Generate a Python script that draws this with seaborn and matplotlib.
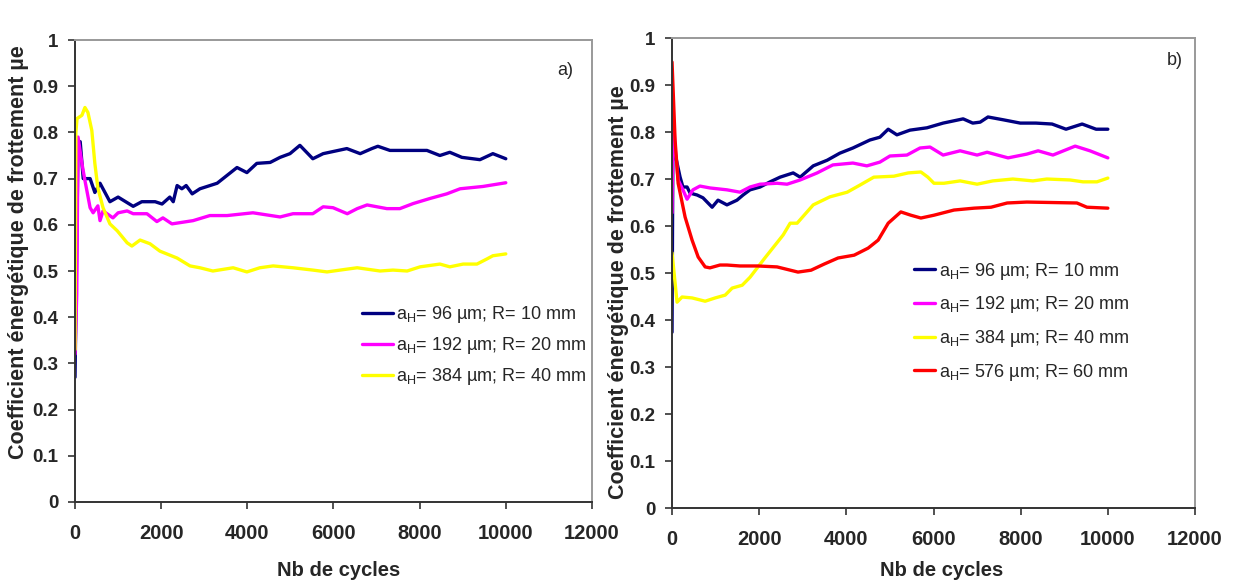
import matplotlib
matplotlib.use('Agg')
import matplotlib.pyplot as plt
from matplotlib.ticker import FuncFormatter
import seaborn as sns

# ---- panel a) ----
cyc_a1 = [0, 70, 120, 190, 350, 460, 580, 810, 1000, 1350, 1550, 1860, 2020, 2200, 2280, 2370, 2480,
          2580, 2720, 2900, 3300, 3760, 3990, 4220, 4530, 4760, 4990, 5220, 5520, 5760, 6310, 6620,
          6890, 7030, 7310, 8170, 8470, 8700, 8980, 9400, 9700, 10000]
mu_a1 = [0.27, 0.78, 0.78, 0.70, 0.70, 0.67, 0.69, 0.65, 0.66, 0.64, 0.65, 0.65, 0.645, 0.66, 0.65,
         0.685, 0.678, 0.685, 0.667, 0.678, 0.69, 0.724, 0.713, 0.733, 0.735, 0.746, 0.754, 0.772,
         0.743, 0.754, 0.765, 0.754, 0.765, 0.77, 0.761, 0.761, 0.75, 0.757, 0.746, 0.741, 0.754, 0.743]

cyc_a2 = [0, 40, 70, 160, 230, 350, 420, 530, 580, 650, 880, 1000, 1210, 1350, 1670, 1900, 2040, 2250,
          2740, 3130, 3530, 4130, 4760, 5060, 5520, 5760, 5990, 6320, 6550, 6780, 7240, 7540, 7850,
          8240, 8630, 8940, 9470, 10000]
mu_a2 = [0.32, 0.45, 0.79, 0.733, 0.696, 0.637, 0.626, 0.641, 0.609, 0.63, 0.615, 0.626, 0.63, 0.624,
         0.624, 0.607, 0.615, 0.602, 0.609, 0.62, 0.62, 0.626, 0.617, 0.624, 0.624, 0.639, 0.637, 0.624,
         0.635, 0.643, 0.635, 0.635, 0.646, 0.657, 0.667, 0.678, 0.683, 0.691]

cyc_a3 = [0, 20, 46, 160, 230, 300, 390, 460, 530, 650, 810, 980, 1210, 1320, 1510, 1740, 1970, 2370,
          2670, 2900, 3200, 3670, 3990, 4290, 4600, 5060, 5520, 5850, 6310, 6550, 7080, 7380, 7710,
          8010, 8470, 8700, 9010, 9330, 9560, 9700, 10000]
mu_a3 = [0.33, 0.80, 0.83, 0.837, 0.854, 0.843, 0.804, 0.733, 0.68, 0.637, 0.602, 0.587, 0.561, 0.554,
         0.567, 0.559, 0.543, 0.528, 0.511, 0.507, 0.50, 0.507, 0.498, 0.507, 0.511, 0.507, 0.502,
         0.498, 0.504, 0.507, 0.50, 0.502, 0.50, 0.509, 0.515, 0.509, 0.515, 0.515, 0.526, 0.533, 0.537]

# ---- panel b) ----
cyc_b1 = [0, 20, 115, 185, 250, 345, 415, 575, 710, 920, 1055, 1260, 1490, 1630, 1790, 2020, 2250,
          2480, 2780, 2940, 3240, 3560, 3850, 4150, 4540, 4770, 4960, 5160, 5460, 5850, 6220, 6680,
          6900, 7070, 7250, 7600, 7990, 8350, 8720, 9040, 9410, 9730, 10000]
mu_b1 = [0.374, 0.777, 0.734, 0.704, 0.683, 0.683, 0.67, 0.666, 0.66, 0.64, 0.655, 0.645, 0.655, 0.666,
         0.677, 0.683, 0.694, 0.704, 0.713, 0.704, 0.728, 0.74, 0.755, 0.766, 0.783, 0.789, 0.806,
         0.794, 0.804, 0.809, 0.819, 0.828, 0.819, 0.821, 0.832, 0.826, 0.819, 0.819, 0.817, 0.806,
         0.817, 0.806, 0.806]

cyc_b2 = [0, 20, 70, 140, 250, 345, 480, 640, 870, 1260, 1560, 1790, 2020, 2410, 2640, 2940, 3330, 3690,
          4150, 4470, 4770, 5000, 5390, 5690, 5920, 6220, 6610, 7000, 7230, 7710, 8140, 8400, 8740,
          9250, 9590, 10000]
mu_b2 = [0.628, 0.843, 0.768, 0.698, 0.677, 0.657, 0.677, 0.685, 0.681, 0.677, 0.672, 0.683, 0.689,
         0.691, 0.689, 0.698, 0.713, 0.73, 0.734, 0.728, 0.736, 0.749, 0.751, 0.766, 0.768, 0.751,
         0.76, 0.751, 0.757, 0.745, 0.753, 0.76, 0.751, 0.77, 0.76, 0.745]

cyc_b3 = [0, 115, 230, 460, 760, 990, 1220, 1380, 1610, 1790, 2130, 2550, 2710, 2870, 3240, 3620,
          4020, 4310, 4630, 5090, 5420, 5710, 5870, 6010, 6240, 6610, 7000, 7360, 7820, 8280, 8600,
          9130, 9430, 9750, 10000]
mu_b3 = [0.543, 0.438, 0.449, 0.447, 0.44, 0.447, 0.453, 0.468, 0.474, 0.491, 0.532, 0.581, 0.606,
         0.606, 0.645, 0.662, 0.672, 0.687, 0.704, 0.706, 0.713, 0.715, 0.704, 0.691, 0.691, 0.696,
         0.689, 0.696, 0.70, 0.696, 0.70, 0.698, 0.694, 0.694, 0.702]

cyc_b4 = [0, 70, 140, 300, 460, 600, 760, 870, 1100, 1260, 1560, 1970, 2410, 2890, 3190, 3490, 3810,
          4180, 4500, 4730, 4960, 5250, 5480, 5710, 6010, 6470, 6930, 7320, 7690, 8140, 9290, 9520, 10000]
mu_b4 = [0.949, 0.783, 0.691, 0.619, 0.57, 0.534, 0.513, 0.511, 0.517, 0.517, 0.515, 0.515, 0.513,
         0.502, 0.506, 0.519, 0.532, 0.538, 0.553, 0.57, 0.606, 0.63, 0.623, 0.617, 0.623, 0.634,
         0.638, 0.64, 0.649, 0.651, 0.649, 0.64, 0.638]

labels = [r'a$_\mathrm{H}$= 96 µm; R= 10 mm', r'a$_\mathrm{H}$= 192 µm; R= 20 mm',
          r'a$_\mathrm{H}$= 384 µm; R= 40 mm', r'a$_\mathrm{H}$= 576 µm; R= 60 mm']
colors = ['#000080', '#ff00ff', '#ffff00', '#ff0000']
yticks = [0, 0.1, 0.2, 0.3, 0.4, 0.5, 0.6, 0.7, 0.8, 0.9, 1.0]
xticks = [0, 2000, 4000, 6000, 8000, 10000, 12000]

sns.set_style('white')
plt.rcParams['font.family'] = ['Liberation Sans', 'DejaVu Sans']
plt.rcParams['mathtext.fontset'] = 'custom'
plt.rcParams['mathtext.rm'] = 'Liberation Sans'
plt.rcParams['mathtext.it'] = 'Liberation Sans:italic'

fig = plt.figure(figsize=(12.34, 5.85), dpi=100)
ax1 = fig.add_axes([0.0608, 0.1419, 0.4189, 0.7897])
ax2 = fig.add_axes([0.5446, 0.1316, 0.4238, 0.8034])

panels = [
    (ax1, [(cyc_a1, mu_a1), (cyc_a2, mu_a2), (cyc_a3, mu_a3)]),
    (ax2, [(cyc_b1, mu_b1), (cyc_b2, mu_b2), (cyc_b3, mu_b3), (cyc_b4, mu_b4)]),
]

for ax, series in panels:
    for i, (xs, ys) in enumerate(series):
        sns.lineplot(x=xs, y=ys, ax=ax, color=colors[i], lw=2.4, label=labels[i],
                     sort=False, estimator=None)
    ax.set_xlim(0, 12000)
    ax.set_ylim(0, 1)
    ax.set_xticks(xticks)
    ax.set_yticks(yticks)
    ax.yaxis.set_major_formatter(FuncFormatter(lambda v, p: '%g' % v))
    ax.tick_params(axis='both', direction='out', length=5, width=1.2, color='#333333',
                   left=True, bottom=True)
    ax.tick_params(axis='x', pad=11, labelsize=14.5)
    ax.tick_params(axis='y', pad=7, labelsize=13.5)
    for lab in ax.get_xticklabels() + ax.get_yticklabels():
        lab.set_fontweight('bold')
    for s in ['left', 'bottom']:
        ax.spines[s].set_color('#333333')
        ax.spines[s].set_linewidth(1.4)
    for s in ['top', 'right']:
        ax.spines[s].set_color('#999999')
        ax.spines[s].set_linewidth(1.4)
    ax.set_xlabel('Nb de cycles', fontsize=14.5, fontweight='bold')
    ax.set_ylabel('Coefficient énergétique de frottement µe', fontsize=15.5, fontweight='bold')

ax1.xaxis.set_label_coords(0.51, -0.128)
ax1.yaxis.set_label_coords(-0.09, 0.54)
ax2.xaxis.set_label_coords(0.516, -0.113)
ax2.yaxis.set_label_coords(-0.082, 0.46)

ax1.legend(loc='upper left', bbox_to_anchor=(0.555, 0.428), frameon=False, fontsize=13,
           handlelength=1.7, handletextpad=0.2, labelspacing=0.55, borderpad=0, borderaxespad=0)
ax2.legend(loc='upper left', bbox_to_anchor=(0.463, 0.526), frameon=False, fontsize=13,
           handlelength=1.15, handletextpad=0.2, labelspacing=0.7, borderpad=0, borderaxespad=0)

ax1.text(0.948, 0.935, 'a)', transform=ax1.transAxes, fontsize=13, ha='center', va='center')
ax2.text(0.962, 0.953, 'b)', transform=ax2.transAxes, fontsize=13, ha='center', va='center')

fig.savefig('out.png', dpi=100)
